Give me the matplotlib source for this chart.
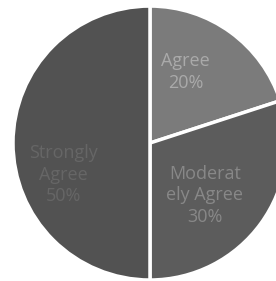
import matplotlib
matplotlib.use("Agg")
import matplotlib.pyplot as plt

labels = ["Agree\n20%", "Moderat\nely Agree\n30%", "Strongly\nAgree\n50%"]
shares = [20, 30, 50]
colors = ["#7b7b7b", "#5c5c5c", "#525252"]
text_colors = ["#aaaaaa", "#888888", "#666666"]
text_pos = [(0.26, 0.52), (0.40, -0.38), (-0.63, -0.23)]

fig = plt.figure(figsize=(2.76, 2.81), dpi=100)
ax = fig.add_axes([0, 0, 1, 1])
wedges, _ = ax.pie(shares, colors=colors, startangle=90, counterclock=False,
                   wedgeprops=dict(edgecolor="white", linewidth=2.5))
for lab, (x, y), c in zip(labels, text_pos, text_colors):
    ax.text(x, y, lab, ha="center", va="center", color=c,
            fontsize=13, family="Open Sans", linespacing=1.25)
ax.set_xlim(-1.095, 0.92)
ax.set_ylim(-1.007, 1.044)
ax.set_aspect("equal")
ax.axis("off")
fig.savefig("out.png", dpi=100, facecolor="white")
